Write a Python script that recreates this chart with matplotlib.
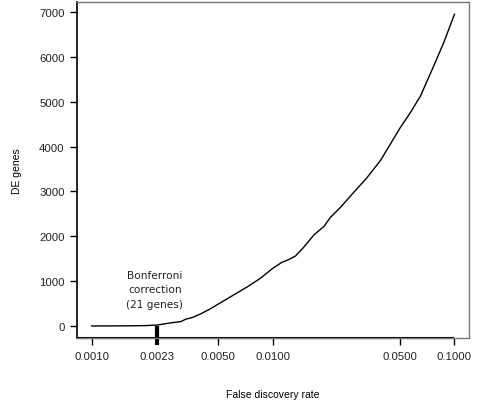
import numpy as np
import matplotlib
matplotlib.use("Agg")
import matplotlib.pyplot as plt
from matplotlib.ticker import FixedLocator, NullLocator

# FDR threshold vs number of DE genes
fdr = [0.0010, 0.0015, 0.0020, 0.0023, 0.0025, 0.0028, 0.0031, 0.0033, 0.0036,
       0.0040, 0.0045, 0.0050, 0.0060, 0.0072, 0.0085, 0.0100, 0.0112, 0.0122,
       0.0133, 0.0148, 0.0168, 0.0191, 0.0207, 0.0236, 0.0273, 0.0330, 0.0391,
       0.0444, 0.0504, 0.0572, 0.0650, 0.0769, 0.0873, 0.1000]
de_genes = [0, 2, 8, 21, 45, 75, 96, 150, 190, 270, 380, 490, 680, 870, 1060,
            1290, 1420, 1480, 1560, 1760, 2030, 2220, 2420, 2650, 2940, 3310,
            3690, 4060, 4430, 4760, 5130, 5800, 6320, 6950]

x_ticks = [0.0010, 0.0023, 0.0050, 0.0100, 0.0500, 0.1000]
x_tick_labels = ["0.0010", "0.0023", "0.0050", "0.0100", "0.0500", "0.1000"]
y_ticks = [0, 1000, 2000, 3000, 4000, 5000, 6000, 7000]
bonf_fdr = 0.0023
bonf_text = "Bonferroni\ncorrection\n(21 genes)"

plt.rcParams["font.family"] = ["Liberation Sans", "DejaVu Sans"]

fig = plt.figure(figsize=(4.88, 4.06), dpi=100)
ax = fig.add_axes([0.158, 0.164, 0.803, 0.829])

ax.plot(fdr, de_genes, color="black", lw=1.0)

ax.set_xscale("log")
ax.set_xlim(10 ** -3.08, 10 ** -0.92)
ax.set_ylim(-278, 7228)
ax.xaxis.set_major_locator(FixedLocator(x_ticks))
ax.xaxis.set_minor_locator(NullLocator())
ax.set_xticklabels(x_tick_labels)
ax.set_yticks(y_ticks)
ax.tick_params(direction="out", length=5, width=1, labelsize=8.2, colors="black",
               labelcolor="#222222", pad=4)

for s in ax.spines.values():
    s.set_color("#777777")
    s.set_linewidth(1.0)
ax.spines["left"].set_color("black")
ax.spines["left"].set_linewidth(1.2)

# dark axis line along the bottom, up to the last tick
ax.plot([10 ** -3.08, 0.1], [0, 0], color="black", lw=1.5,
        transform=ax.get_xaxis_transform(), clip_on=False, solid_capstyle="butt")

# Bonferroni marker: thick tick from y=0 down through the axis
ax.plot([bonf_fdr, bonf_fdr], [0, -278], color="black", lw=3, solid_capstyle="butt",
        clip_on=False)
ax.xaxis.get_major_ticks()[1].tick1line.set_markeredgewidth(3)

ax.text(bonf_fdr * 0.97, 1250, bonf_text, ha="center", va="top", fontsize=7.6,
        family=["DejaVu Sans"], color="#222222", linespacing=1.55)

ax.set_ylabel("DE genes", fontsize=7.5, va="center")
ax.yaxis.set_label_coords(-0.153, 0.5)
ax.set_xlabel("False discovery rate", fontsize=7.5, va="center")
ax.xaxis.set_label_coords(0.5, -0.165)

fig.savefig("out.png", dpi=100)
